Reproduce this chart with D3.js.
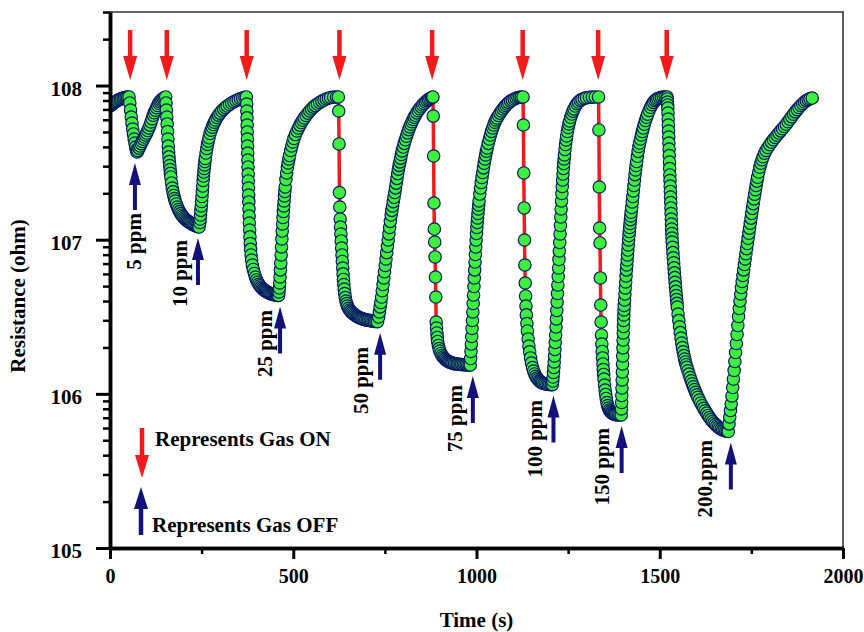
<!DOCTYPE html>
<html>
<head>
<meta charset="utf-8">
<script src="https://cdn.jsdelivr.net/npm/d3@7"></script>
<style>
  body { margin: 0; background: #fff; }
  text { font-family: "Liberation Serif", "Times New Roman", serif; font-weight: bold; }
  .axis path.domain { stroke: #000; stroke-width: 3.5; }
  .axis .tick line { stroke: #000; stroke-width: 3; }
  .axis.minor .tick line { stroke-width: 2.5; }
</style>
</head>
<body>
<div id="chart"></div>
<script>
// ----------------
// sensor response: [time (s), log10 resistance (ohm)]
// ----------------
const baseline = [[0,7.867],[4,7.875],[8,7.883],[12,7.890],[16,7.897],[20,7.902],[24,7.908],[28,7.912],[32,7.916],[36,7.919],[40,7.922],[44,7.924],[48,7.925]];

const ppm5 = [[52,7.926],[54,7.887],[56,7.841],[58,7.796],[60,7.757],[62,7.718],[64,7.686],[66,7.653],[68,7.627],[70,7.601],[72,7.582],[74,7.569],
    [76,7.579],[79,7.594],[82,7.608],[85,7.623],[88,7.637],[91,7.652],[94,7.666],[97,7.679],[100,7.692],[103,7.708],[106,7.725],[109,7.743],[112,7.764],[115,7.785],[118,7.807],[121,7.824],[124,7.840],[127,7.856],[130,7.871],[133,7.885],[136,7.895],[139,7.903],[142,7.910],[145,7.916],[148,7.921],[152,7.926]];

const ppm10 = [[153,7.887],[154,7.841],[155,7.796],[156,7.751],[157,7.702],[158,7.653],[159,7.608],[160,7.569],[161,7.537],[162,7.507],[163,7.481],[164,7.455],[165,7.430],[166,7.407],[168,7.368],[170,7.335],[172,7.310],[174,7.287],[176,7.267],[178,7.251],[181,7.232],[184,7.212],[187,7.196],[190,7.182],[193,7.170],[196,7.159],[199,7.150],[202,7.142],[205,7.134],[208,7.128],[211,7.123],[214,7.117],[217,7.112],[220,7.108],[223,7.103],[226,7.099],[229,7.095],[232,7.092],[235,7.089],[238,7.086],[241,7.084],[243,7.082],
    [245,7.112],[246,7.134],[247,7.160],[248,7.190],[249,7.219],[250,7.248],[251,7.280],[252,7.313],[253,7.348],[254,7.384],[255,7.413],[256,7.439],[257,7.462],[258,7.485],[259,7.507],[260,7.527],[262,7.562],[264,7.592],[266,7.618],[268,7.640],[270,7.661],[273,7.689],[276,7.710],[279,7.730],[282,7.747],[285,7.762],[288,7.777],[292,7.793],[296,7.808],[300,7.821],[305,7.835],[310,7.847],[315,7.858],[320,7.867],[326,7.877],[332,7.887],[338,7.895],[344,7.902],[350,7.909],[356,7.915],[362,7.919],[368,7.923],[372,7.926]];

const ppm25 = [[373.0,7.880],[373.4,7.835],[373.8,7.790],[374.2,7.744],[374.6,7.699],[375.0,7.653],[375.4,7.608],[375.8,7.562],[376.2,7.517],[376.6,7.472],[377.0,7.426],[377.4,7.381],[377.8,7.335],[378.2,7.290],[378.7,7.245],[379.2,7.199],[379.7,7.154],[380.3,7.108],[381,7.063],[381.8,7.018],[382.7,6.975],[383.7,6.937],[385,6.901],[386.5,6.868],[388.5,6.836],[391,6.807],[394,6.781],[397,6.758],[400,6.739],[403,6.724],[406,6.711],[409,6.701],[412,6.692],[415,6.685],[418,6.678],[421,6.673],[424,6.668],[427,6.663],[430,6.659],[433,6.656],[436,6.652],[439,6.650],[442,6.647],[445,6.645],[448,6.643],[451,6.641],[454,6.640],[457,6.639],[460,6.638],
    [461,6.661],[462,6.687],[463,6.719],[464,6.758],[465,6.804],[466,6.849],[467,6.901],[468,6.953],[469,7.005],[470,7.056],[471,7.102],[472,7.144],[473,7.183],[474,7.219],[475,7.251],[476,7.284],[477,7.313],[478,7.342],[480,7.391],[482,7.433],[484,7.468],[486,7.498],[488,7.524],[490,7.546],[493,7.579],[496,7.608],[499,7.634],[502,7.657],[506,7.682],[510,7.705],[514,7.725],[518,7.743],[522,7.760],[526,7.775],[530,7.790],[535,7.806],[540,7.821],[545,7.835],[550,7.848],[555,7.860],[560,7.870],[566,7.880],[572,7.890],[578,7.899],[584,7.906],[590,7.913],[596,7.918],[602,7.922],[610,7.925],[618,7.926]];

const ppm50 = [[623,7.926],[624,7.835],[625,7.621],[626,7.306],[627,7.212],[628,7.134],[629,7.082],[630,7.037],[631,6.992],[632,6.946],[633,6.901],[634,6.859],[635,6.816],[636,6.778],[637,6.742],[638,6.709],[639,6.680],[640.5,6.651],[642,6.625],[644,6.602],[646,6.585],[648,6.570],[651,6.555],[654,6.544],[657,6.535],[660,6.527],[663,6.521],[666,6.515],[669,6.510],[672,6.505],[675,6.501],[678,6.497],[681,6.494],[684,6.491],[687,6.488],[690,6.486],[694,6.483],[698,6.480],[702,6.478],[706,6.477],[710,6.475],[714,6.473],[718,6.471],[722,6.470],[726,6.469],[730,6.468],
    [733,6.499],[735,6.531],[737,6.564],[739,6.593],[741,6.628],[743,6.669],[745,6.709],[747,6.752],[749,6.792],[751,6.833],[753,6.875],[755,6.916],[757,6.957],[759,6.998],[761,7.038],[763,7.079],[765,7.119],[767,7.160],[769,7.190],[771,7.219],[773,7.247],[775,7.275],[777,7.306],[779,7.336],[781,7.367],[783,7.398],[785,7.429],[787,7.458],[789,7.482],[791,7.505],[793,7.529],[795,7.553],[797,7.576],[800,7.601],[803,7.625],[806,7.648],[809,7.671],[812,7.693],[815,7.714],[818,7.732],[821,7.749],[824,7.765],[827,7.780],[830,7.794],[833,7.807],[837,7.823],[841,7.837],[845,7.850],[849,7.862],[853,7.874],[857,7.884],[861,7.893],[865,7.902],[869,7.909],[873,7.915],[877,7.921],[880,7.924]];

const ppm75 = [[881,7.926],[882,7.802],[883,7.543],[884,7.238],[885,7.069],[886,6.985],[887,6.888],[888,6.758],[889,6.628],[890,6.466],[891,6.427],[892,6.395],[893,6.366],[894,6.340],[896,6.314],[898,6.294],[900,6.278],[903,6.262],[906,6.249],[909,6.239],[912,6.231],[915,6.224],[918,6.218],[921,6.213],[924,6.209],[927,6.206],[930,6.203],[933,6.200],[936,6.198],[940,6.196],[944,6.194],[948,6.193],[952,6.192],[956,6.190],[960,6.190],[964,6.189],[968,6.189],[972,6.188],[976,6.187],[980,6.187],[983,6.187],
    [984,6.229],[985,6.275],[986,6.323],[987,6.372],[988,6.424],[989,6.476],[990,6.531],[991,6.586],[992,6.641],[993,6.696],[994,6.752],[995,6.804],[996,6.855],[997,6.904],[998,6.953],[999,6.998],[1000,7.040],[1001,7.079],[1002,7.112],[1003,7.141],[1004,7.170],[1005,7.199],[1006,7.225],[1007,7.251],[1009,7.296],[1011,7.335],[1013,7.371],[1015,7.404],[1017,7.436],[1019,7.466],[1021,7.496],[1023,7.524],[1025,7.550],[1027,7.574],[1029,7.595],[1032,7.625],[1035,7.653],[1038,7.679],[1041,7.703],[1044,7.725],[1047,7.744],[1050,7.762],[1053,7.777],[1056,7.790],[1060,7.806],[1064,7.821],[1068,7.835],[1072,7.848],[1076,7.860],[1080,7.871],[1084,7.880],[1088,7.889],[1093,7.899],[1098,7.906],[1103,7.913],[1108,7.918],[1113,7.922],[1118,7.924],[1122,7.925]];

const ppm100 = [[1127,7.926],[1128,7.744],[1129,7.433],[1130,7.206],[1131,6.998],[1132,6.836],[1133,6.719],[1134,6.635],[1135,6.570],[1136,6.512],[1137.5,6.456],[1139,6.408],[1141,6.356],[1143,6.310],[1145,6.272],[1147.5,6.233],[1150,6.200],[1153,6.171],[1156,6.148],[1159,6.129],[1162,6.114],[1165,6.102],[1168,6.093],[1171,6.085],[1174,6.079],[1177,6.074],[1180,6.070],[1184,6.067],[1188,6.065],[1192,6.063],[1196,6.061],[1200,6.061],[1204,6.060],[1207,6.060],
    [1208,6.083],[1209,6.109],[1210,6.139],[1211,6.171],[1212,6.207],[1213,6.246],[1214,6.288],[1215,6.333],[1216,6.382],[1217,6.434],[1218,6.486],[1219,6.541],[1220,6.596],[1221,6.651],[1222,6.706],[1223,6.761],[1224,6.816],[1225,6.872],[1226,6.927],[1227,6.982],[1228,7.037],[1229,7.092],[1230,7.147],[1231,7.199],[1232,7.251],[1233,7.300],[1234,7.345],[1235,7.387],[1236,7.426],[1237,7.462],[1238,7.494],[1239,7.524],[1240,7.550],[1241.5,7.585],[1243,7.618],[1244.5,7.647],[1246,7.673],[1248,7.702],[1250,7.728],[1252,7.751],[1254,7.770],[1257,7.794],[1260,7.815],[1263,7.834],[1266,7.849],[1270,7.867],[1274,7.882],[1278,7.893],[1283,7.904],[1288,7.911],[1294,7.917],[1300,7.921],[1308,7.924],[1316,7.925],[1324,7.926]];

const ppm150 = [[1333,7.926],[1334,7.712],[1335,7.342],[1336,7.076],[1337,6.979],[1338,6.752],[1339,6.576],[1340,6.466],[1341,6.382],[1342,6.323],[1343,6.275],[1344,6.233],[1345,6.194],[1346,6.158],[1347,6.126],[1348,6.096],[1349.5,6.057],[1351,6.025],[1352.5,5.996],[1354,5.970],[1356,5.944],[1358,5.924],[1360,5.908],[1362.5,5.895],[1365,5.886],[1368,5.878],[1371,5.873],[1374,5.869],[1377,5.867],[1380,5.865],[1383,5.864],[1387,5.863],[1391,5.863],[1395,5.863],
    [1395.5,5.902],[1396,5.944],[1396.5,5.989],[1397,6.038],[1397.5,6.090],[1398,6.142],[1398.5,6.194],[1399,6.246],[1399.5,6.298],[1400,6.349],[1400.5,6.395],[1401,6.437],[1401.5,6.476],[1402,6.512],[1402.5,6.544],[1403,6.573],[1404,6.609],[1405,6.648],[1406,6.687],[1407,6.726],[1408,6.765],[1409,6.804],[1410,6.836],[1411,6.868],[1412,6.901],[1413,6.933],[1414,6.966],[1415,6.998],[1416,7.027],[1417,7.053],[1418,7.079],[1419,7.105],[1420,7.130],[1421,7.154],[1422,7.178],[1423.5,7.209],[1425,7.245],[1426.5,7.280],[1428,7.316],[1429.5,7.352],[1431,7.387],[1432.5,7.422],[1434,7.452],[1435.5,7.481],[1437,7.507],[1439,7.541],[1441,7.573],[1443,7.605],[1445,7.627],[1447.5,7.653],[1450,7.679],[1452.5,7.702],[1455,7.725],[1458,7.749],[1461,7.773],[1464,7.794],[1467,7.814],[1471,7.838],[1475,7.859],[1479,7.876],[1483,7.891],[1487,7.902],[1491,7.910],[1495,7.916],[1500,7.921],[1505,7.923],[1510,7.925],[1515,7.925]];

const ppm200 = [[1520,7.926],[1520.5,7.913],[1521,7.893],[1521.5,7.874],[1522,7.854],[1522.5,7.822],[1523,7.783],[1523.5,7.744],[1524,7.705],[1524.5,7.666],[1525,7.627],[1525.5,7.588],[1526,7.546],[1526.5,7.504],[1527,7.462],[1527.5,7.420],[1528,7.384],[1528.5,7.348],[1529,7.313],[1529.5,7.277],[1530,7.241],[1530.5,7.206],[1531,7.170],[1531.5,7.134],[1532,7.102],[1532.5,7.069],[1533,7.040],[1533.5,7.011],[1534,6.985],[1535,6.951],[1536,6.916],[1537,6.883],[1538,6.850],[1539,6.817],[1540,6.785],[1541,6.754],[1542,6.724],[1543,6.694],[1544,6.665],[1545,6.638],[1546,6.612],[1547,6.587],[1548,6.563],[1550,6.518],[1552,6.475],[1554,6.435],[1556,6.397],[1558,6.362],[1560,6.330],[1562,6.300],[1564,6.273],[1566,6.248],[1568,6.226],[1570,6.207],[1572,6.189],[1574,6.172],[1577,6.150],[1580,6.128],[1583,6.106],[1586,6.085],[1589,6.065],[1592,6.046],[1595,6.028],[1598,6.010],[1601,5.994],[1604,5.978],[1608,5.959],[1612,5.941],[1616,5.923],[1620,5.906],[1624,5.890],[1628,5.875],[1632,5.860],[1636,5.846],[1640,5.833],[1644,5.821],[1648,5.811],[1652,5.801],[1656,5.792],[1660,5.784],[1664,5.777],[1668,5.771],[1672,5.766],[1676,5.762],[1680,5.759],[1684,5.757],[1687,5.756],
    [1689,5.805],[1691,5.850],[1693,5.892],[1695,5.934],[1697,5.986],[1699,6.041],[1701,6.096],[1703,6.152],[1705,6.210],[1707,6.268],[1709,6.327],[1711,6.385],[1713,6.443],[1715,6.502],[1717,6.554],[1719,6.602],[1721,6.648],[1723,6.690],[1725,6.729],[1727,6.768],[1729,6.804],[1731,6.839],[1733,6.875],[1735,6.909],[1737,6.942],[1739,6.975],[1741,7.009],[1743,7.042],[1745,7.075],[1747,7.107],[1749,7.140],[1751,7.171],[1753,7.203],[1755,7.234],[1757,7.265],[1759,7.295],[1761,7.324],[1763,7.352],[1765,7.380],[1767,7.405],[1770,7.439],[1773,7.470],[1776,7.496],[1779,7.519],[1782,7.538],[1786,7.561],[1790,7.579],[1795,7.598],[1800,7.616],[1805,7.633],[1810,7.648],[1815,7.663],[1820,7.678],[1825,7.692],[1830,7.706],[1835,7.720],[1840,7.734],[1845,7.749],[1850,7.765],[1855,7.781],[1860,7.797],[1865,7.814],[1870,7.829],[1875,7.844],[1880,7.858],[1885,7.871],[1890,7.882],[1895,7.893],[1900,7.902],[1905,7.909],[1910,7.915],[1916,7.919]];

const cycles = [ppm5, ppm10, ppm25, ppm50, ppm75, ppm100, ppm150, ppm200];
const concentrations = ["5 ppm", "10 ppm", "25 ppm", "50 ppm", "75 ppm", "100 ppm", "150 ppm", "200.ppm"];
const gasOnTimes = [55, 155, 373, 626, 879, 1126, 1332, 1519];
const gasOffTimes = [68, 240, 464, 737, 990, 1210, 1396, 1694];
// where each concentration label ends (top of the rotated text), in data units
const labelTimes = [65, 191, 423, 685, 941, 1160, 1342, 1623];
const labelLogR = [7.173, 6.998, 6.544, 6.304, 6.057, 5.960, 5.779, 5.701];

const xTicks = [0, 500, 1000, 1500, 2000];
const xMinorTicks = [250, 750, 1250, 1750];
const yTicks = [1e5, 1e6, 1e7, 1e8];

// set the dimensions and margins of the graph
const margin = {top: 12, right: 21, bottom: 84, left: 110},
    width = 864 - margin.left - margin.right,
    height = 632 - margin.top - margin.bottom;

const svg = d3.select("#chart")
    .append("svg")
    .attr("width", 864)
    .attr("height", 632);

svg.append("rect").attr("width", 864).attr("height", 632).attr("fill", "#fff");

const g = svg.append("g")
    .attr("transform", `translate(${margin.left},${margin.top})`);

const x = d3.scaleLinear().domain([0, 2000]).range([0, width]);
const y = d3.scaleLog().domain([1e5, 3e8]).range([height, 0]);
const yR = v => y(Math.pow(10, v));

// box (top and right lines are thinner than the axes)
g.append("path")
    .attr("d", `M0,0H${width}V${height}`)
    .attr("fill", "none")
    .attr("stroke", "#333")
    .attr("stroke-width", 1.6);

// data: red connecting line with green markers on top
g.append("clipPath").attr("id", "plot-clip")
    .append("rect").attr("width", width).attr("height", height);

const points = baseline.concat(...cycles);
const plot = g.append("g").attr("clip-path", "url(#plot-clip)");

plot.append("path")
    .datum(points)
    .attr("d", d3.line().x(d => x(d[0])).y(d => yR(d[1])))
    .attr("fill", "none")
    .attr("stroke", "#f21a1a")
    .attr("stroke-width", 3.5);

plot.selectAll("circle")
    .data(points)
    .join("circle")
    .attr("cx", d => x(d[0]))
    .attr("cy", d => yR(d[1]))
    .attr("r", 6.2)
    .attr("fill", "#3cf03c")
    .attr("stroke", "#0b1768")
    .attr("stroke-width", 1.2);

// Y axis (log), minor then major ticks
const yMinor = y.ticks().filter(v => Math.abs(Math.log10(v) - Math.round(Math.log10(v))) > 1e-6);
g.append("g").attr("class", "axis minor")
    .call(d3.axisLeft(y).tickValues(yMinor).tickSize(7).tickFormat("").tickSizeOuter(0));
g.append("g").attr("class", "axis")
    .call(d3.axisLeft(y).tickValues(yTicks).tickSize(14).tickPadding(14).tickSizeOuter(0)
        .tickFormat(v => "10" + Math.round(Math.log10(v))))
    .selectAll("text")
    .attr("dy", "0.45em")
    .style("font-size", "21px");

// X axis
g.append("g").attr("class", "axis minor")
    .attr("transform", `translate(0,${height})`)
    .call(d3.axisBottom(x).tickValues(xMinorTicks).tickSize(6).tickFormat("").tickSizeOuter(0));
g.append("g").attr("class", "axis")
    .attr("transform", `translate(0,${height})`)
    .call(d3.axisBottom(x).tickValues(xTicks).tickSize(11).tickPadding(10).tickSizeOuter(0)
        .tickFormat(d3.format("d")))
    .selectAll("text")
    .style("font-size", "20px");

// axis titles
svg.append("text")
    .attr("x", margin.left + width / 2)
    .attr("y", 627)
    .attr("text-anchor", "middle")
    .style("font-size", "21px")
    .text("Time (s)");

svg.append("text")
    .attr("transform", "translate(18,296) rotate(-90)")
    .attr("text-anchor", "middle")
    .attr("dy", "0.35em")
    .style("font-size", "21px")
    .text("Resistance (ohm)");

// arrows
function arrow(sel, cx, tail, tip, color, headLen, headW, shaftW) {
    const s = Math.sign(tip - tail), base = tip - s * headLen;
    sel.append("path")
        .attr("d", `M${cx - shaftW / 2},${tail}L${cx + shaftW / 2},${tail}L${cx + shaftW / 2},${base}` +
            `L${cx + headW / 2},${base}L${cx},${tip}L${cx - headW / 2},${base}L${cx - shaftW / 2},${base}Z`)
        .attr("fill", color);
}

const red = "#f21a1a", navy = "#12127a";

gasOnTimes.forEach(t => arrow(g, x(t), 18, 68, red, 24, 14, 4.5));

cycles.forEach((c, i) => {
    const tip = yR(d3.min(c, d => d[1])) + 11;
    arrow(g, x(gasOffTimes[i]), tip + 47, tip, navy, 22, 12, 4);
    g.append("text")
        .attr("transform", `translate(${x(labelTimes[i])},${yR(labelLogR[i])}) rotate(-90)`)
        .attr("text-anchor", "end")
        .attr("dy", "0.35em")
        .style("font-size", "21px")
        .text(concentrations[i]);
});

// legend
arrow(svg, 142, 428, 478, red, 23, 14, 4.5);
arrow(svg, 141, 535, 487, navy, 22, 14, 4.5);
svg.append("text").attr("x", 155).attr("y", 446).style("font-size", "21px").text("Represents Gas ON");
svg.append("text").attr("x", 152).attr("y", 532).style("font-size", "21px").text("Represents Gas OFF");
</script>
</body>
</html>
